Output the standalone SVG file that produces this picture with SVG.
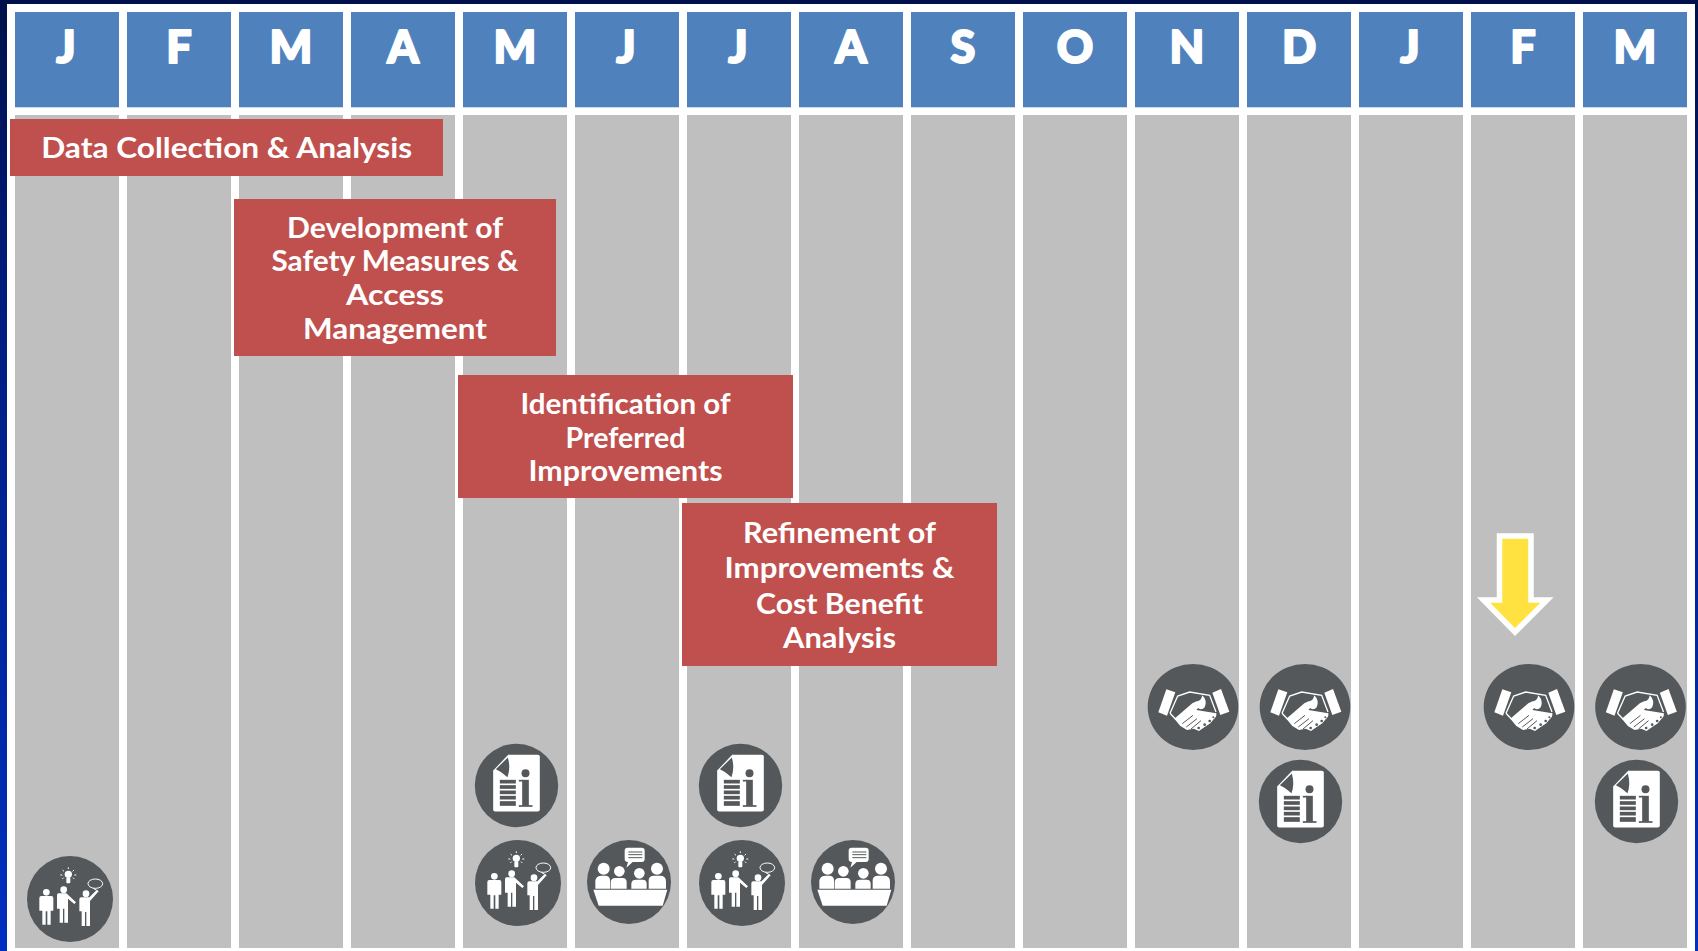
<svg xmlns="http://www.w3.org/2000/svg" width="1698" height="951" viewBox="0 0 1698 951">
<style>
.hd{fill:#4F81BD}
.col{fill:#BFBFBF}
.mon{font:900 45px Lato,"Liberation Sans",sans-serif;fill:#fff;stroke:#fff;stroke-width:2;stroke-linejoin:round;text-anchor:middle}
.bar{fill:#C0504D}
.lab{font:700 29px Lato,"Liberation Sans",sans-serif;fill:#fff;text-anchor:middle}
.disc{fill:#54585A}
.w{fill:#fff}
.d{fill:#54585A}
.ol{fill:none;stroke:#fff}
.dl{fill:none;stroke:#54585A}
.edge{fill:#C9D8EA}
</style>
<defs>
<linearGradient id="bg" x1="0" y1="0" x2="0" y2="1">
<stop offset="0" stop-color="#00104A"/><stop offset=".3" stop-color="#001C7C"/><stop offset="1" stop-color="#0030C0"/>
</linearGradient>
<g id="info">
<circle class="disc" r="41.7"/>
<g transform="scale(.3333) translate(-170,-167)">
<path class="w" d="M100 122 L145 75 H234 Q240 75 240 81 V239 Q240 245 234 245 H106 Q100 245 100 239 Z"/>
<path class="d" d="M108 118 L144 83 Q153 115 143 142 Q125 125 108 118 Z"/>
<rect class="d" x="120" y="150" width="48" height="11"/>
<rect class="d" x="120" y="166" width="48" height="11"/>
<rect class="d" x="120" y="182" width="48" height="11"/>
<rect class="d" x="120" y="198" width="48" height="11"/>
<rect class="d" x="120" y="214" width="48" height="14"/>
<circle class="d" cx="197" cy="130" r="12"/>
<rect class="d" x="187" y="150" width="20" height="78"/>
<rect class="d" x="177" y="150" width="14" height="5"/>
<rect class="d" x="177" y="226" width="41" height="5"/>
</g>
</g>
<g id="people">
<ellipse class="disc" rx="43" ry="43"/>
<g transform="scale(.3333) translate(-210,-536)">
<circle class="w" cx="139" cy="516" r="10"/>
<path class="w" d="M124 527 H154 Q160 527 160 533 V571 H152 V613 H142 V573 H137 V613 H127 V571 H118 V533 Q118 527 124 527 Z"/>
<circle class="w" cx="191" cy="508" r="10"/>
<path class="w" d="M176 519 H199 L228 546 L223 551 L204 535 V607 H193 V565 H189 V607 H179 V565 H171 V524 Q171 519 176 519 Z"/>
<circle class="w" cx="258" cy="520" r="10"/>
<path class="w" d="M244 531 H268 L291 508 L296 513 L270 542 V617 H259 V575 H255 V617 H245 V573 H238 V537 Q238 531 244 531 Z"/>
<circle class="w" cx="205" cy="462" r="11"/>
<rect class="w" x="199" y="472" width="12" height="17" rx="3"/>
<path class="ol" stroke-width="3" d="M205 441 V446 M188 449 L192 453 M222 449 L218 453 M181 464 H187 M223 464 H229 M187 476 L191 472 M223 476 L219 472"/>
<ellipse class="ol" stroke-width="3" cx="286" cy="490" rx="22" ry="14"/>
<path class="ol" stroke-width="3" d="M280 504 L290 510"/>
</g>
</g>
<g id="meeting">
<circle class="disc" r="42"/>
<g transform="scale(.3333) translate(-507,-457)">
<path class="w" d="M400 480 H622 L608 528 H416 Z"/>
<circle class="w" cx="431" cy="417" r="18"/>
<circle class="w" cx="478" cy="425" r="16"/>
<circle class="w" cx="538" cy="431" r="16"/>
<circle class="w" cx="591" cy="417" r="18"/>
<path class="w" d="M406 477 V455 Q406 438 426 438 H436 Q450 438 450 452 V477 Z"/>
<path class="w" d="M452 477 V459 Q452 445 466 445 H488 Q500 445 500 459 V477 Z"/>
<path class="w" d="M514 477 V463 Q514 450 528 450 H548 Q560 450 560 463 V477 Z"/>
<path class="w" d="M566 477 V452 Q566 438 582 438 H600 Q618 438 618 455 V477 Z"/>
<path class="w" d="M503 354 H545 Q554 354 554 363 V388 Q554 397 545 397 H518 L499 414 L504 397 Q494 397 494 388 V363 Q494 354 503 354 Z"/>
<path class="dl" stroke-width="3" d="M505 367 H547 M505 375 H547 M505 384 H547"/>
</g>
</g>
<g id="shake">
<ellipse class="disc" rx="45.3" ry="43"/>
<g transform="scale(.3333) translate(-188,-171)">
<path class="w" d="M108 118 L135 127 L110 197 L84 187 Z"/>
<path class="w" d="M246 128 L272 117 L297 185 L270 195 Z"/>
<path class="ol" stroke-width="4" d="M119 190 L142 138 L178 126 L238 136 L257 186"/>
<path class="ol" stroke-width="4" d="M119 190 L136 208"/>
<path class="w" d="M132 206 L186 160 Q198 152 206 152 Q214 148 216 136 Q232 152 223 172 Q214 182 204 174 L198 180 L258 190 Q260 200 250 208 L240 220 L222 232 L206 243 L190 236 L170 240 L150 228 Z"/>
<path class="dl" stroke-width="3" d="M156 221 L188 196 M168 231 L200 206 M182 237 L212 212"/>
<circle class="d" cx="205" cy="234" r="4"/>
<circle class="d" cx="223" cy="224" r="4"/>
<circle class="d" cx="238" cy="213" r="4"/>
<circle class="d" cx="249" cy="202" r="3"/>
</g>
</g>
</defs>

<rect width="1698" height="951" fill="url(#bg)"/>
<rect x="7" y="4" width="1688" height="947" fill="#fff"/>

<g id="col-1"><rect class="col" x="15" y="115" width="104" height="833"/><rect class="edge" x="15" y="107" width="104" height="1"/><rect class="hd" x="15" y="12" width="104" height="95"/><text class="mon" x="66" y="63">J</text></g>
<g id="col-2"><rect class="col" x="127" y="115" width="104" height="833"/><rect class="edge" x="127" y="107" width="104" height="1"/><rect class="hd" x="127" y="12" width="104" height="95"/><text class="mon" x="179" y="63">F</text></g>
<g id="col-3"><rect class="col" x="239" y="115" width="104" height="833"/><rect class="edge" x="239" y="107" width="104" height="1"/><rect class="hd" x="239" y="12" width="104" height="95"/><text class="mon" x="291" y="63">M</text></g>
<g id="col-4"><rect class="col" x="351" y="115" width="104" height="833"/><rect class="edge" x="351" y="107" width="104" height="1"/><rect class="hd" x="351" y="12" width="104" height="95"/><text class="mon" x="403" y="63">A</text></g>
<g id="col-5"><rect class="col" x="463" y="115" width="104" height="833"/><rect class="edge" x="463" y="107" width="104" height="1"/><rect class="hd" x="463" y="12" width="104" height="95"/><text class="mon" x="515" y="63">M</text></g>
<g id="col-6"><rect class="col" x="575" y="115" width="104" height="833"/><rect class="edge" x="575" y="107" width="104" height="1"/><rect class="hd" x="575" y="12" width="104" height="95"/><text class="mon" x="626" y="63">J</text></g>
<g id="col-7"><rect class="col" x="687" y="115" width="104" height="833"/><rect class="edge" x="687" y="107" width="104" height="1"/><rect class="hd" x="687" y="12" width="104" height="95"/><text class="mon" x="738" y="63">J</text></g>
<g id="col-8"><rect class="col" x="799" y="115" width="104" height="833"/><rect class="edge" x="799" y="107" width="104" height="1"/><rect class="hd" x="799" y="12" width="104" height="95"/><text class="mon" x="851" y="63">A</text></g>
<g id="col-9"><rect class="col" x="911" y="115" width="104" height="833"/><rect class="edge" x="911" y="107" width="104" height="1"/><rect class="hd" x="911" y="12" width="104" height="95"/><text class="mon" x="963" y="63">S</text></g>
<g id="col-10"><rect class="col" x="1023" y="115" width="104" height="833"/><rect class="edge" x="1023" y="107" width="104" height="1"/><rect class="hd" x="1023" y="12" width="104" height="95"/><text class="mon" x="1075" y="63">O</text></g>
<g id="col-11"><rect class="col" x="1135" y="115" width="104" height="833"/><rect class="edge" x="1135" y="107" width="104" height="1"/><rect class="hd" x="1135" y="12" width="104" height="95"/><text class="mon" x="1187" y="63">N</text></g>
<g id="col-12"><rect class="col" x="1247" y="115" width="104" height="833"/><rect class="edge" x="1247" y="107" width="104" height="1"/><rect class="hd" x="1247" y="12" width="104" height="95"/><text class="mon" x="1299" y="63">D</text></g>
<g id="col-13"><rect class="col" x="1359" y="115" width="104" height="833"/><rect class="edge" x="1359" y="107" width="104" height="1"/><rect class="hd" x="1359" y="12" width="104" height="95"/><text class="mon" x="1410" y="63">J</text></g>
<g id="col-14"><rect class="col" x="1471" y="115" width="104" height="833"/><rect class="edge" x="1471" y="107" width="104" height="1"/><rect class="hd" x="1471" y="12" width="104" height="95"/><text class="mon" x="1523" y="63">F</text></g>
<g id="col-15"><rect class="col" x="1583" y="115" width="104" height="833"/><rect class="edge" x="1583" y="107" width="104" height="1"/><rect class="hd" x="1583" y="12" width="104" height="95"/><text class="mon" x="1635" y="63">M</text></g>

<g id="task-data"><rect class="bar" x="10" y="119" width="433" height="57"/>
<text class="lab" x="226.7" y="158" textLength="371" lengthAdjust="spacingAndGlyphs">Data Collection &amp; Analysis</text></g>
<g id="task-safety"><rect class="bar" x="234" y="199" width="322" height="157"/>
<text class="lab" x="395" y="237.5" textLength="216" lengthAdjust="spacingAndGlyphs">Development of</text>
<text class="lab" x="395" y="271" textLength="247" lengthAdjust="spacingAndGlyphs">Safety Measures &amp;</text>
<text class="lab" x="395" y="305" textLength="98" lengthAdjust="spacingAndGlyphs">Access</text>
<text class="lab" x="395" y="338.5" textLength="184" lengthAdjust="spacingAndGlyphs">Management</text></g>
<g id="task-preferred"><rect class="bar" x="458" y="375" width="335" height="123"/>
<text class="lab" x="625.5" y="413.5" textLength="210" lengthAdjust="spacingAndGlyphs">Identification of</text>
<text class="lab" x="625.5" y="447.5" textLength="120" lengthAdjust="spacingAndGlyphs">Preferred</text>
<text class="lab" x="625.5" y="481" textLength="194" lengthAdjust="spacingAndGlyphs">Improvements</text></g>
<g id="task-refine"><rect class="bar" x="682" y="503" width="315" height="163"/>
<text class="lab" x="839.5" y="543" textLength="193" lengthAdjust="spacingAndGlyphs">Refinement of</text>
<text class="lab" x="839.5" y="578" textLength="230" lengthAdjust="spacingAndGlyphs">Improvements &amp;</text>
<text class="lab" x="839.5" y="613.5" textLength="167" lengthAdjust="spacingAndGlyphs">Cost Benefit</text>
<text class="lab" x="839.5" y="648" textLength="113" lengthAdjust="spacingAndGlyphs">Analysis</text></g>

<g id="current-marker"><path fill="#FFE240" stroke="#fff" stroke-width="5.5" d="M1499.5 536 H1531 V600 H1547 L1515 632 L1483.5 600 H1499.5 Z"/></g>

<g id="icons">
<use id="i-people-1" href="#people" x="70" y="899"/>
<use id="i-info-1" href="#info" x="516.5" y="785.5"/>
<use id="i-people-2" href="#people" x="518" y="883"/>
<use id="i-meet-1" href="#meeting" x="629" y="882"/>
<use id="i-info-2" href="#info" x="740.5" y="785.5"/>
<use id="i-people-3" href="#people" x="742" y="883"/>
<use id="i-meet-2" href="#meeting" x="853" y="882"/>
<use id="i-shake-1" href="#shake" x="1193" y="707"/>
<use id="i-shake-2" href="#shake" x="1305" y="707"/>
<use id="i-info-3" href="#info" x="1300.5" y="801.5"/>
<use id="i-shake-3" href="#shake" x="1529" y="707"/>
<use id="i-shake-4" href="#shake" x="1640.5" y="707"/>
<use id="i-info-4" href="#info" x="1636.5" y="801.5"/>
</g>
<g id="connectors"/>
</svg>
